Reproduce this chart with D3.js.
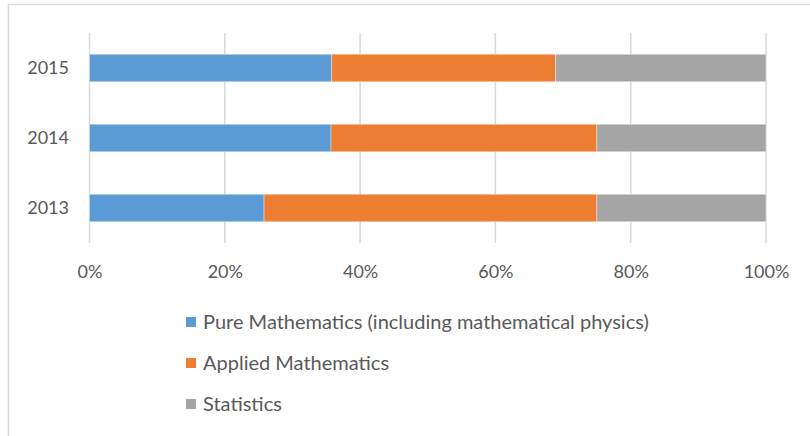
<!DOCTYPE html>
<meta charset="utf-8">
<head>
  <script src="https://d3js.org/d3.v7.min.js"></script>
  <style>
    body { margin: 0; background: #fff; font-family: 'Lato', 'Open Sans', sans-serif; }
    svg { display: block; }
  </style>
</head>
<body>
  <div id="my_dataviz"></div>
<script>
  // data (share of each year, in %)
  const years = ["2013", "2014", "2015"];
  const series_names = ["Pure Mathematics (including mathematical physics)", "Applied Mathematics", "Statistics"];
  const pure = [25.8, 35.7, 35.8];
  const applied = [49.2, 39.3, 33.1];
  const statistics = [25.0, 25.0, 31.1];
  const x_ticks = [0, 20, 40, 60, 80, 100];
  const colors = ["#5B9BD5", "#ED7D31", "#A5A5A5"];

  const W = 810, H = 436;
  const plot = { left: 89.5, right: 766, top: 33, bottom: 243 };

  const rows = years.map((y, i) => ({ year: y, s0: pure[i], s1: applied[i], s2: statistics[i] }));
  const stack = d3.stack().keys(["s0", "s1", "s2"])(rows);

  var svg = d3.select("#my_dataviz")
    .append("svg")
    .attr("width", W)
    .attr("height", H);

  // chart frame (only left and top are inside the picture)
  svg.append("rect")
    .attr("x", 8.5).attr("y", 4.5)
    .attr("width", 820).attr("height", 450)
    .attr("fill", "none")
    .attr("stroke", "#D9D9D9")
    .attr("stroke-width", 1.5);

  var x = d3.scaleLinear()
    .domain([0, 100])
    .range([plot.left, plot.right]);

  var y = d3.scaleBand()
    .domain(years.slice().reverse())
    .range([plot.top, plot.bottom])
    .paddingInner(0.607)
    .paddingOuter(0.3035);

  // vertical gridlines
  svg.append("g")
    .selectAll("line")
    .data(x_ticks)
    .enter()
    .append("line")
    .attr("x1", d => x(d)).attr("x2", d => x(d))
    .attr("y1", plot.top).attr("y2", plot.bottom)
    .attr("stroke", "#D9D9D9")
    .attr("stroke-width", 1.5);

  // bars
  svg.append("g")
    .selectAll("g")
    .data(stack)
    .enter()
    .append("g")
    .attr("fill", (d, i) => colors[i])
    .selectAll("rect")
    .data(d => d)
    .enter()
    .append("rect")
    .attr("x", d => x(d[0]))
    .attr("y", d => y(d.data.year))
    .attr("width", d => x(d[1]) - x(d[0]))
    .attr("height", y.bandwidth())
    .attr("stroke", "#fff")
    .attr("stroke-opacity", 0.5)
    .attr("stroke-width", 0.75);

  // x axis labels
  var xAxis = svg.append("g")
    .attr("transform", "translate(0," + 272 + ")")
    .call(d3.axisBottom(x).tickValues(x_ticks).tickSize(0).tickPadding(0).tickFormat(d => d + "%"));
  xAxis.select(".domain").remove();
  xAxis.selectAll("text")
    .attr("dy", "0.35em")
    .attr("fill", "#595959")
    .style("font-size", "18px")
    .style("font-family", "Lato, 'Open Sans', sans-serif");

  // y axis labels
  var yAxis = svg.append("g")
    .attr("transform", "translate(" + 69 + ",0)")
    .call(d3.axisLeft(y).tickSize(0).tickPadding(0));
  yAxis.select(".domain").remove();
  yAxis.selectAll("text")
    .attr("fill", "#595959")
    .style("font-size", "18px")
    .style("font-family", "Lato, 'Open Sans', sans-serif");

  // legend
  var legend = svg.append("g")
    .selectAll("g")
    .data(series_names)
    .enter()
    .append("g")
    .attr("transform", (d, i) => "translate(186," + (322 + i * 41) + ")");

  legend.append("rect")
    .attr("x", 0).attr("y", -5)
    .attr("width", 10).attr("height", 10)
    .attr("fill", (d, i) => colors[i]);

  legend.append("text")
    .attr("x", 17)
    .attr("dy", "0.35em")
    .attr("fill", "#595959")
    .style("font-size", "20px")
    .text(d => d);
</script>
</body>
